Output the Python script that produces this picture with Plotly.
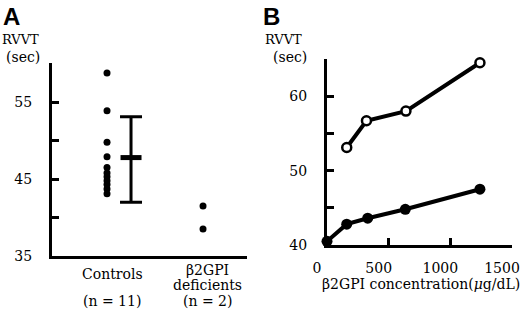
import plotly.graph_objects as go

# ---------------- data ----------------
# Panel A
controls_rvvt = [58.8, 53.9, 49.8, 47.9, 46.5, 45.8, 45.3, 44.8, 44.3, 43.7, 43.1]
deficient_rvvt = [41.5, 38.5]
controls_mean = 47.8
controls_upper = 53.1
controls_lower = 42.0
group_label_lines = [["Controls"], ["β2GPI", "deficients"]]
group_n = ["(n = 11)", "(n = 2)"]
a_tickvals = [35, 40, 45, 50, 55]
a_ticktext = ["35", "", "45", "", "55"]

# Panel B
open_conc = [160, 320, 640, 1240]
open_rvvt = [53.1, 56.7, 58.0, 64.5]
filled_conc = [0, 160, 330, 635, 1240]
filled_rvvt = [40.5, 42.8, 43.6, 44.8, 47.5]
b_xtickvals = [0, 500, 1000, 1500]
b_ytickvals = [40, 45, 50, 55, 60]
b_yticktext = ["40", "", "50", "", "60"]

FONT = "DejaVu Serif, serif"
W, H = 520, 315

def fx(px):
    return px / W

def fy(py):
    return 1 - py / H

fig = go.Figure()

# Panel A dots
fig.add_trace(go.Scatter(x=[1.0] * len(controls_rvvt), y=controls_rvvt, mode="markers",
                         marker=dict(size=7, color="black"), xaxis="x", yaxis="y",
                         showlegend=False, cliponaxis=False))
fig.add_trace(go.Scatter(x=[2.0] * len(deficient_rvvt), y=deficient_rvvt, mode="markers",
                         marker=dict(size=7, color="black"), xaxis="x", yaxis="y",
                         showlegend=False, cliponaxis=False))
# mean +- bar
fig.add_trace(go.Scatter(x=[1.25], y=[controls_mean], mode="markers",
                         marker=dict(symbol="line-ew", size=15,
                                     line=dict(width=5, color="black")),
                         error_y=dict(type="data", symmetric=False,
                                      array=[controls_upper - controls_mean],
                                      arrayminus=[controls_mean - controls_lower],
                                      thickness=3, width=11, color="black"),
                         xaxis="x", yaxis="y", showlegend=False))

# Panel B lines
fig.add_trace(go.Scatter(x=open_conc, y=open_rvvt, mode="lines+markers",
                         line=dict(color="black", width=4),
                         marker=dict(size=9, color="white", line=dict(color="black", width=2.5)),
                         xaxis="x2", yaxis="y2", showlegend=False, cliponaxis=False))
fig.add_trace(go.Scatter(x=filled_conc, y=filled_rvvt, mode="lines+markers",
                         line=dict(color="black", width=4),
                         marker=dict(size=11, color="black"),
                         xaxis="x2", yaxis="y2", showlegend=False, cliponaxis=False))

tickfont = dict(family=FONT, size=14, color="black")
common = dict(showline=True, linewidth=3, linecolor="black", showgrid=False,
              zeroline=False, ticks="inside", ticklen=7, tickwidth=3, tickcolor="black",
              tickfont=tickfont, automargin=False, ticklabeloverflow="allow")

fig.update_layout(
    template="none",
    font=dict(family=FONT, size=14, color="black"),
    width=W, height=H, margin=dict(l=0, r=0, t=0, b=0, pad=0),
    paper_bgcolor="white", plot_bgcolor="white",
    xaxis=dict(domain=[fx(52), fx(247)], range=[0.427, 2.458], showline=True,
               linewidth=3, linecolor="black", showgrid=False, zeroline=False,
               showticklabels=False, ticks="", automargin=False),
    yaxis=dict(domain=[fy(256), fy(63)], range=[35, 60.1], tickvals=a_tickvals,
               ticktext=a_ticktext, ticklabelstandoff=14, **common),
    xaxis2=dict(domain=[fx(327), fx(512)], range=[0, 1500], tickvals=b_xtickvals,
                ticklabelstandoff=8, ticklabelshift=-10, anchor="y2", **common),
    yaxis2=dict(domain=[fy(245), fy(59)], range=[40, 65], tickvals=b_ytickvals,
                ticktext=b_yticktext, ticklabelstandoff=14, anchor="x2", **common),
)

annots = []
txt = dict(family=FONT, size=14, color="black")
# panel letters
annots.append(dict(text="<b>A</b>", x=fx(1), y=fy(1), xanchor="left", yanchor="top",
                   font=dict(family="Liberation Sans", size=24, color="black")))
annots.append(dict(text="<b>B</b>", x=fx(261), y=fy(1), xanchor="left", yanchor="top",
                   font=dict(family="Liberation Sans", size=24, color="black")))
# y titles
for cx, cx2 in [(20, 23), (283, 290)]:
    annots.append(dict(text="RVVT", x=fx(cx), y=fy(39), xanchor="center", yanchor="middle",
                       font=dict(family=FONT, size=13, color="black")))
    annots.append(dict(text="(sec)", x=fx(cx2), y=fy(57), xanchor="center", yanchor="middle",
                       font=dict(family=FONT, size=14, color="black")))
# panel A category labels
label_x = [112, 207]
line_y = {1: [274], 2: [270, 285]}
for lx, lines, n in zip(label_x, group_label_lines, group_n):
    for ly, lab in zip(line_y[len(lines)], lines):
        annots.append(dict(text=lab, x=fx(lx), y=fy(ly), xanchor="center", yanchor="middle",
                           font=txt))
    annots.append(dict(text=n, x=fx(lx), y=fy(301), xanchor="center", yanchor="middle",
                       font=txt))
# panel B x title
annots.append(dict(text="β2GPI concentration(<i>μ</i>g/dL)", x=fx(421), y=fy(284),
                   xanchor="center", yanchor="middle", font=txt))

for a in annots:
    a.update(xref="paper", yref="paper", showarrow=False)
fig.update_layout(annotations=annots)

fig.write_html("out.html", config={"displayModeBar": False},
               post_script="document.body.style.margin='0';")
